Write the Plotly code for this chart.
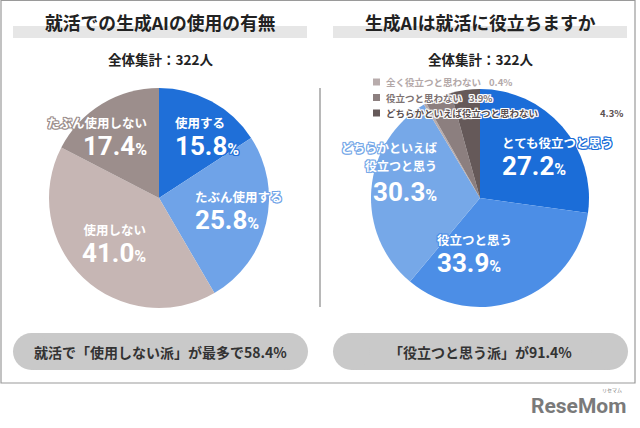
import plotly.graph_objects as go

W, H = 640, 428

# ---- data ----
left_labels = ["使用する", "たぶん使用する", "使用しない", "たぶん使用しない"]
left_values = [15.8, 25.8, 41.0, 17.4]
left_colors = ["#1f6fd8", "#6fa3e8", "#c6b6b4", "#9c8e8c"]

right_labels = ["とても役立つと思う", "役立つと思う", "どちらかといえば役立つと思う",
                "全く役立つと思わない", "役立つと思わない", "どちらかといえば役立つと思わない"]
right_values = [27.2, 33.9, 30.3, 0.4, 3.9, 4.3]
right_colors = ["#1b6dd8", "#4c8ee6", "#76a8e8", "#b8acac", "#8c7f7f", "#655959"]
wrapped_label = ["どちらかといえば", "役立つと思う"]

titles = ["就活での生成AIの使用の有無", "生成AIは就活に役立ちますか"]
subtitle = "全体集計：322人"
summaries = ["就活で「使用しない派」が最多で58.4%", "「役立つと思う派」が91.4%"]


def px(x):
    return x / W


def py(y):
    return 1 - y / H


JP = "Noto Sans CJK JP"
NUM = "Roboto"

fig = go.Figure()


def add_pie(labels, values, colors, cx, cy, r):
    fig.add_trace(go.Pie(
        labels=labels, values=values, sort=False, direction="clockwise", rotation=0,
        marker=dict(colors=colors, line=dict(width=0)),
        textinfo="none", hoverinfo="label+percent", showlegend=False,
        domain=dict(x=[px(cx - r), px(cx + r)], y=[py(cy + r), py(cy - r)]),
    ))


add_pie(left_labels, left_values, left_colors, 159, 198, 110)
add_pie(right_labels, right_values, right_colors, 480, 198, 109)

shapes = []
annotations = []

# outer frame
shapes.append(dict(type="rect", xref="paper", yref="paper", x0=px(1), x1=px(635), y0=py(383), y1=py(0.5),
                   line=dict(color="#9a9a9a", width=1.2), layer="below"))
# divider
shapes.append(dict(type="line", xref="paper", yref="paper", x0=px(320), x1=px(320), y0=py(88), y1=py(307),
                   line=dict(color="#b8b8b8", width=2)))

for i, cx in enumerate([160, 480]):
    shapes.append(dict(type="rect", xref="paper", yref="paper", x0=px(cx - 147), x1=px(cx + 147),
                       y0=py(38), y1=py(26), fillcolor="#e6e6e6", line=dict(width=0), layer="below"))
    annotations.append(dict(xref="paper", yref="paper", x=px(cx), y=py(22), text=titles[i],
                            showarrow=False, xanchor="center", yanchor="middle",
                            font=dict(family=JP, size=17.8, color="#222222", weight="bold")))
    annotations.append(dict(xref="paper", yref="paper", x=px(cx), y=py(59), text=subtitle,
                            showarrow=False, xanchor="center", yanchor="middle",
                            font=dict(family=JP, size=13.5, color="#222222", weight="bold")))
    x0, x1, y0, y1 = cx - 147, cx + 148, 333, 370
    rr = (y1 - y0) / 2
    shapes.append(dict(type="rect", xref="paper", yref="paper", x0=px(x0 + rr), x1=px(x1 - rr),
                       y0=py(y1), y1=py(y0), fillcolor="#c9c9c9", line=dict(width=0), layer="below"))
    for ccx in (x0 + rr, x1 - rr):
        shapes.append(dict(type="circle", xref="paper", yref="paper", x0=px(ccx - rr), x1=px(ccx + rr),
                           y0=py(y1), y1=py(y0), fillcolor="#c9c9c9", line=dict(width=0), layer="below"))
    annotations.append(dict(xref="paper", yref="paper", x=px(cx), y=py(352), text=summaries[i],
                            showarrow=False, xanchor="center", yanchor="middle",
                            font=dict(family=JP, size=14, color="#333333", weight="bold")))


def outline(c):
    return ", ".join(f"{dx}px {dy}px 0 {c}" for dx, dy in
                     [(1, 0), (-1, 0), (0, 1), (0, -1), (1, 1), (-1, -1), (1, -1), (-1, 1)])


def num_html(value):
    return (f"<span style='font-size:26px;font-family:{NUM}'>{value:.1f}</span>"
            f"<span style='font-size:16px;font-family:{NUM}'>%</span>")


def pie_label(name, value, x, y, anchor, outline_color):
    annotations.append(dict(xref="paper", yref="paper", x=px(x), y=py(y),
                            text=f"<span style='font-size:12.5px'>{name}</span><br>{num_html(value)}",
                            showarrow=False, xanchor=anchor, yanchor="middle", align=anchor,
                            font=dict(family=JP, size=21, color="white", weight="bold",
                                      shadow=outline(outline_color))))


# left pie labels
pie_label(left_labels[0], left_values[0], 173, 137, "left", left_colors[0])
pie_label(left_labels[1], left_values[1], 193, 211, "left", left_colors[1])
pie_label(left_labels[2], left_values[2], 148, 244, "right", left_colors[2])
pie_label(left_labels[3], left_values[3], 149, 137, "right", left_colors[3])

# right pie labels
pie_label(right_labels[0], right_values[0], 500, 157, "left", right_colors[0])
pie_label(right_labels[1], right_values[1], 435, 254, "left", right_colors[1])
for k, line in enumerate(wrapped_label):
    annotations.append(dict(xref="paper", yref="paper", x=px(439), y=py(148 + k * 17), text=line,
                            showarrow=False, xanchor="right", yanchor="middle",
                            font=dict(family=JP, size=12, color="white", weight="bold",
                                      shadow=outline(right_colors[2]))))
annotations.append(dict(xref="paper", yref="paper", x=px(439), y=py(192), text=num_html(right_values[2]),
                        showarrow=False, xanchor="right", yanchor="middle",
                        font=dict(family=JP, size=21, color="white", weight="bold",
                                  shadow=outline(right_colors[2]))))

# custom legend for the small slices
legend_text_colors = ["#b3a8a8", "#7d7272", "#5a4f4f"]
legend_value_x = [487, 467, 598]
for k, idx in enumerate([3, 4, 5]):
    yy = 82 + k * 15.5
    shapes.append(dict(type="rect", xref="paper", yref="paper", x0=px(373), x1=px(380), y0=py(yy + 3.5),
                       y1=py(yy - 3.5), fillcolor=right_colors[idx], line=dict(width=0)))
    annotations.append(dict(xref="paper", yref="paper", x=px(384), y=py(yy), text=right_labels[idx],
                            showarrow=False, xanchor="left", yanchor="middle",
                            font=dict(family=JP, size=9.5, color=legend_text_colors[k], weight="bold",
                                      shadow=outline("white"))))
    annotations.append(dict(xref="paper", yref="paper", x=px(legend_value_x[k]), y=py(yy),
                            text=f"{right_values[idx]:.1f}%",
                            showarrow=False, xanchor="left", yanchor="middle",
                            font=dict(family=JP, size=9.5, color=legend_text_colors[k], weight="bold",
                                      shadow=outline("white"))))

# logo
annotations.append(dict(xref="paper", yref="paper", x=px(628), y=py(406), text="ReseMom",
                        showarrow=False, xanchor="right", yanchor="middle",
                        font=dict(family="Roboto", size=21, color="#7a7a7a", weight="bold")))
annotations.append(dict(xref="paper", yref="paper", x=px(612), y=py(390), text="リセマム",
                        showarrow=False, xanchor="center", yanchor="middle",
                        font=dict(family=JP, size=5, color="#7a7a7a")))

fig.update_layout(
    width=W, height=H, margin=dict(l=0, r=0, t=0, b=0),
    paper_bgcolor="white", plot_bgcolor="white",
    shapes=shapes, annotations=annotations, showlegend=False,
)

fig.write_html("out.html", config={"displayModeBar": False},
               post_script="document.body.style.margin='0';document.body.style.overflow='hidden';")
